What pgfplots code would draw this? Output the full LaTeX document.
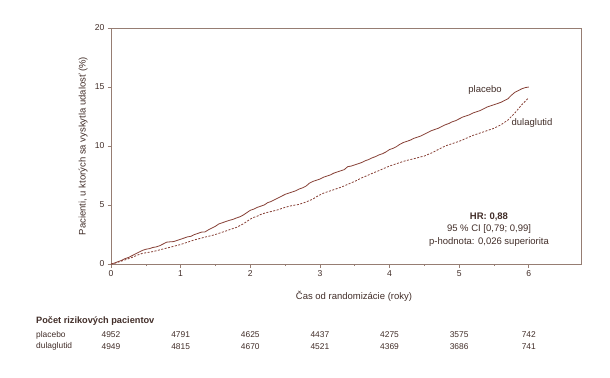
\documentclass[border=0pt]{standalone}
\usepackage{fontspec}
\setmainfont{Liberation Sans}
\usepackage{pgfplots}
\pgfplotsset{compat=1.18}
\definecolor{plc}{RGB}{135,65,55}
\definecolor{txt}{RGB}{65,45,40}
\definecolor{axc}{RGB}{150,125,115}
\newcommand{\fs}{\fontsize{9.5bp}{11.4bp}\selectfont}
\newcommand{\fn}{\fontsize{8.4bp}{10bp}\selectfont}
\begin{document}
\fn
\begin{tikzpicture}
\useasboundingbox (0,0) rectangle (610bp,-378bp);
\begin{axis}[
  at={(111bp,-264bp)}, anchor=south west, scale only axis,
  width=470bp, height=236bp,
  xmin=0, xmax=6.75, ymin=0, ymax=20,
  xtick={0,1,2,3,4,5,6}, ytick={0,5,10,15,20},
  minor xtick={0.5,1.5,2.5,3.5,4.5,5.5},
  xtick pos=left, ytick pos=left,
  tick align=outside, major tick length=3.5bp, minor tick length=2bp,
  axis line style={axc, line width=0.7bp},
  every tick/.style={axc, line width=0.6bp},
  tick label style={font=\fontsize{8.6bp}{10bp}\selectfont, text=txt},
  /pgf/number format/assume math mode=true,
  xlabel={Čas od randomizácie (roky)},
  ylabel={Pacienti, u ktorých sa vyskytla udalosť (\%)},
  every axis x label/.style={at={(axis description cs:0.517,-0.1356)}, anchor=center, font=\fs, text=txt},
  every axis y label/.style={at={(axis description cs:-0.0596,0.5)}, rotate=90, anchor=center, font=\fs, text=txt},
  clip=false,
]
\addplot[plc, line width=0.8bp] coordinates {
(0,0) (0.05,0.08) (0.1,0.2) (0.15,0.3) (0.2,0.45) (0.25,0.55) (0.3,0.7) (0.35,0.85) (0.4,1.0) (0.45,1.15) (0.5,1.25) (0.55,1.3) (0.6,1.4) (0.65,1.45) (0.7,1.55) (0.75,1.7) (0.8,1.85) (0.85,1.88) (0.9,1.9) (0.95,2.0) (1.0,2.1)
(1.05,2.2) (1.1,2.3) (1.15,2.35) (1.2,2.5) (1.25,2.6) (1.3,2.7) (1.35,2.72) (1.4,2.9) (1.45,3.05) (1.5,3.2) (1.55,3.4) (1.6,3.5) (1.65,3.6) (1.7,3.7) (1.75,3.78) (1.8,3.9) (1.85,4.0) (1.9,4.15) (1.95,4.35) (2.0,4.55)
(2.05,4.65) (2.1,4.8) (2.15,4.9) (2.2,5.0) (2.25,5.2) (2.3,5.3) (2.35,5.45) (2.4,5.6) (2.45,5.75) (2.5,5.9) (2.55,6.0) (2.6,6.1) (2.65,6.2) (2.7,6.35) (2.75,6.45) (2.8,6.6) (2.85,6.85) (2.9,7.0) (2.95,7.1) (3.0,7.2)
(3.05,7.35) (3.1,7.45) (3.15,7.55) (3.2,7.7) (3.25,7.8) (3.3,7.9) (3.35,8.0) (3.4,8.25) (3.45,8.3) (3.5,8.4) (3.55,8.5) (3.6,8.6) (3.65,8.75) (3.7,8.85) (3.75,9.0) (3.8,9.1) (3.85,9.25) (3.9,9.35) (3.95,9.5) (4.0,9.7)
(4.05,9.8) (4.1,9.95) (4.15,10.15) (4.2,10.3) (4.25,10.4) (4.3,10.5) (4.35,10.65) (4.4,10.75) (4.45,10.85) (4.5,11.0) (4.55,11.15) (4.6,11.3) (4.65,11.4) (4.7,11.5) (4.75,11.65) (4.8,11.8) (4.85,11.9) (4.9,12.05) (4.95,12.15) (5.0,12.3)
(5.05,12.45) (5.1,12.55) (5.15,12.65) (5.2,12.8) (5.25,12.9) (5.3,13.0) (5.35,13.15) (5.4,13.3) (5.45,13.4) (5.5,13.5) (5.55,13.6) (5.6,13.7) (5.65,13.85) (5.7,14.0) (5.75,14.3) (5.8,14.55) (5.85,14.7) (5.9,14.85) (5.95,14.95) (6.0,15.0)
};
\addplot[plc, line width=0.8bp, dash pattern=on 2bp off 1.5bp] coordinates {
(0,0) (0.05,0.05) (0.1,0.15) (0.15,0.25) (0.2,0.35) (0.25,0.45) (0.3,0.55) (0.35,0.68) (0.4,0.8) (0.45,0.9) (0.5,0.95) (0.55,1.0) (0.6,1.05) (0.65,1.12) (0.7,1.2) (0.75,1.28) (0.8,1.35) (0.85,1.42) (0.9,1.5) (0.95,1.58) (1.0,1.65)
(1.05,1.75) (1.1,1.85) (1.15,1.95) (1.2,2.05) (1.25,2.12) (1.3,2.2) (1.35,2.28) (1.4,2.35) (1.45,2.42) (1.5,2.5) (1.55,2.6) (1.6,2.7) (1.65,2.8) (1.7,2.9) (1.75,3.0) (1.8,3.1) (1.85,3.25) (1.9,3.4) (1.95,3.6) (2.0,3.8)
(2.05,3.95) (2.1,4.05) (2.15,4.2) (2.2,4.3) (2.25,4.38) (2.3,4.45) (2.35,4.52) (2.4,4.6) (2.45,4.7) (2.5,4.8) (2.55,4.88) (2.6,4.95) (2.65,5.0) (2.7,5.05) (2.75,5.15) (2.8,5.25) (2.85,5.38) (2.9,5.5) (2.95,5.7) (3.0,5.85)
(3.05,6.0) (3.1,6.1) (3.15,6.2) (3.2,6.3) (3.25,6.4) (3.3,6.5) (3.35,6.62) (3.4,6.75) (3.45,6.88) (3.5,7.0) (3.55,7.15) (3.6,7.3) (3.65,7.42) (3.7,7.55) (3.75,7.68) (3.8,7.8) (3.85,7.92) (3.9,8.05) (3.95,8.18) (4.0,8.3)
(4.05,8.4) (4.1,8.5) (4.15,8.6) (4.2,8.7) (4.25,8.78) (4.3,8.85) (4.35,8.92) (4.4,9.0) (4.45,9.08) (4.5,9.15) (4.55,9.28) (4.6,9.4) (4.65,9.55) (4.7,9.7) (4.75,9.85) (4.8,10.0) (4.85,10.1) (4.9,10.2) (4.95,10.3) (5.0,10.4)
(5.05,10.52) (5.1,10.65) (5.15,10.78) (5.2,10.9) (5.25,11.0) (5.3,11.1) (5.35,11.2) (5.4,11.3) (5.45,11.4) (5.5,11.5) (5.55,11.65) (5.6,11.8) (5.65,12.0) (5.7,12.2) (5.75,12.5) (5.8,12.8) (5.85,13.15) (5.9,13.5) (5.95,13.8) (6.0,14.1)
};
% risk table numbers centred on the year ticks
\node[text=txt] at (axis cs:0,0) [yshift=-71bp] {4952};
\node[text=txt] at (axis cs:1,0) [yshift=-71bp] {4791};
\node[text=txt] at (axis cs:2,0) [yshift=-71bp] {4625};
\node[text=txt] at (axis cs:3,0) [yshift=-71bp] {4437};
\node[text=txt] at (axis cs:4,0) [yshift=-71bp] {4275};
\node[text=txt] at (axis cs:5,0) [yshift=-71bp] {3575};
\node[text=txt] at (axis cs:6,0) [yshift=-71bp] {742};
\node[text=txt] at (axis cs:0,0) [yshift=-82.5bp] {4949};
\node[text=txt] at (axis cs:1,0) [yshift=-82.5bp] {4815};
\node[text=txt] at (axis cs:2,0) [yshift=-82.5bp] {4670};
\node[text=txt] at (axis cs:3,0) [yshift=-82.5bp] {4521};
\node[text=txt] at (axis cs:4,0) [yshift=-82.5bp] {4369};
\node[text=txt] at (axis cs:5,0) [yshift=-82.5bp] {3686};
\node[text=txt] at (axis cs:6,0) [yshift=-82.5bp] {741};
\end{axis}
\node[text=txt, anchor=west, font=\fontsize{9.2bp}{11bp}\selectfont\bfseries, inner sep=0pt] at (36bp,-320.7bp) {Počet rizikových pacientov};
\node[text=txt, anchor=west, inner sep=0pt] at (36bp,-335bp) {placebo};
\node[text=txt, anchor=west, inner sep=0pt] at (36bp,-346.5bp) {dulaglutid};
\node[text=txt, font=\fs] at (485bp,-90bp) {placebo};
\node[text=txt, font=\fs] at (532bp,-123bp) {dulaglutid};
\node[text=txt, align=center, font=\fontsize{9.5bp}{12.5bp}\selectfont] at (489bp,-229.5bp) {\textbf{HR: 0,88}\\95 \% CI [0,79; 0,99]\\p-hodnota: 0,026 superiorita};
\end{tikzpicture}
\end{document}
